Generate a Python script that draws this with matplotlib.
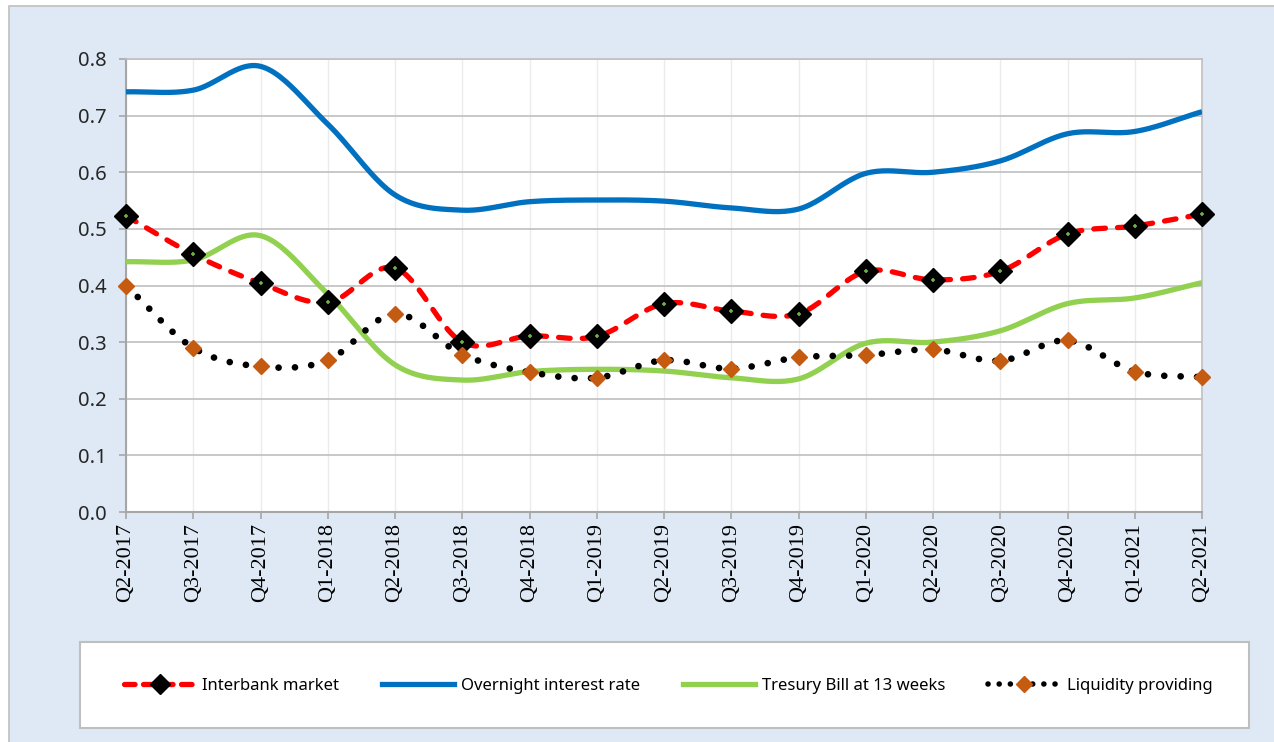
import numpy as np
import matplotlib
matplotlib.use('Agg')
import matplotlib.pyplot as plt
from matplotlib.patches import Rectangle

# data
quarters = ['Q2-2017', 'Q3-2017', 'Q4-2017', 'Q1-2018', 'Q2-2018', 'Q3-2018', 'Q4-2018',
            'Q1-2019', 'Q2-2019', 'Q3-2019', 'Q4-2019', 'Q1-2020', 'Q2-2020', 'Q3-2020',
            'Q4-2020', 'Q1-2021', 'Q2-2021']
interbank = [0.523, 0.455, 0.404, 0.370, 0.431, 0.300, 0.311, 0.310, 0.368,
             0.355, 0.350, 0.425, 0.410, 0.425, 0.491, 0.505, 0.526]
overnight = [0.742, 0.745, 0.787, 0.685, 0.560, 0.533, 0.548, 0.551, 0.549,
             0.537, 0.535, 0.598, 0.600, 0.620, 0.668, 0.672, 0.707]
tbill = [0.442, 0.445, 0.488, 0.385, 0.260, 0.233, 0.248, 0.252, 0.249,
         0.237, 0.235, 0.298, 0.300, 0.320, 0.368, 0.378, 0.405]
liquidity = [0.400, 0.290, 0.257, 0.268, 0.350, 0.278, 0.247, 0.237, 0.268,
             0.253, 0.273, 0.277, 0.287, 0.267, 0.303, 0.248, 0.238]

labels = ['Interbank market', 'Overnight interest rate', 'Tresury Bill at 13 weeks', 'Liquidity providing']

# colours
bg_blue = '#DEE9F5'
red = '#FF0000'
blue = '#0070C0'
green = '#92D050'
orange = '#C55A11'


def smooth(y, n=24):
    # catmull-rom curve through the points, like Excel's "smoothed line"
    y = np.asarray(y, dtype=float)
    x = np.arange(len(y), dtype=float)
    px = np.concatenate([[2 * x[0] - x[1]], x, [2 * x[-1] - x[-2]]])
    py = np.concatenate([[2 * y[0] - y[1]], y, [2 * y[-1] - y[-2]]])
    xs, ys = [], []
    for i in range(1, len(px) - 2):
        t = np.linspace(0, 1, n, endpoint=False)
        for arr, out in ((px, xs), (py, ys)):
            p0, p1, p2, p3 = arr[i - 1], arr[i], arr[i + 1], arr[i + 2]
            out.append(0.5 * ((2 * p1) + (-p0 + p2) * t + (2 * p0 - 5 * p1 + 4 * p2 - p3) * t ** 2
                              + (-p0 + 3 * p1 - 3 * p2 + p3) * t ** 3))
    xs.append([x[-1]])
    ys.append([y[-1]])
    return np.concatenate(xs), np.concatenate(ys)


fig = plt.figure(figsize=(12.74, 7.42), dpi=100)
fig.patch.set_facecolor('white')

# blue panel behind everything
fig.patches.append(Rectangle((9 / 1274, -0.01), 1.0, 1 - 6 / 742 + 0.01, transform=fig.transFigure,
                             facecolor=bg_blue, edgecolor='#BFBFBF', linewidth=1.2, zorder=-10))

ax = fig.add_axes([126 / 1274, 1 - 512 / 742, (1202 - 126) / 1274, (512 - 59) / 742])
ax.set_facecolor('white')

x = np.arange(len(quarters))

# interbank
sx, sy = smooth(interbank)
ax.plot(sx, sy, color=red, lw=3.8, dashes=[2.2, 2.3], dash_capstyle='round', zorder=3)
ax.plot(x, interbank, ls='none', marker='D', ms=12, mfc='black', mec='black', zorder=4, clip_on=False)
ax.plot(x, interbank, ls='none', marker='+', ms=3.5, mec='#70AD47', mew=1.2, zorder=5, clip_on=False)

# overnight
sx, sy = smooth(overnight)
ax.plot(sx, sy, color=blue, lw=3.8, solid_capstyle='butt', zorder=3)

# treasury
sx, sy = smooth(tbill)
ax.plot(sx, sy, color=green, lw=3.8, solid_capstyle='butt', zorder=3)

# liquidity
sx, sy = smooth(liquidity)
ax.plot(sx, sy, color='black', lw=4.8, dashes=[0.01, 2.45], dash_capstyle='round', zorder=6)
ax.plot(x, liquidity, ls='none', marker='D', ms=8.5, mfc=orange, mec=orange, zorder=7, clip_on=False)

ax.set_xlim(0, len(quarters) - 1)
ax.set_ylim(0, 0.8)
ax.set_yticks(np.arange(0, 0.81, 0.1))
ax.set_yticklabels(['%.1f' % v for v in np.arange(0, 0.81, 0.1)], fontsize=14.5, family='Noto Sans',
                   color='#262626')
ax.set_xticks(x)
ax.set_xticklabels(quarters, rotation=90, fontsize=16, family='Liberation Serif')

ax.grid(axis='y', color='#BFBFBF', lw=1.2, zorder=0)
ax.grid(axis='x', color='#EBEBEB', lw=1.0, zorder=0)
ax.set_axisbelow(True)
for side in ['top', 'right']:
    ax.spines[side].set_color('#BFBFBF')
    ax.spines[side].set_linewidth(1.2)
for side in ['left', 'bottom']:
    ax.spines[side].set_color('#A6A6A6')
    ax.spines[side].set_linewidth(1.5)
ax.tick_params(axis='both', direction='out', length=5, width=1.2, color='#A6A6A6')
ax.tick_params(axis='y', pad=9)
ax.tick_params(axis='x', pad=3)

# legend box
fig.patches.append(Rectangle((80 / 1274, 1 - 728 / 742), (1249 - 80) / 1274, (728 - 642) / 742,
                             transform=fig.transFigure, facecolor='white', edgecolor='#BFBFBF',
                             linewidth=1.5, zorder=-5))

h1, = ax.plot([], [], color=red, lw=3.8, dashes=[2.0, 1.6], dash_capstyle='round',
              marker='D', ms=10, mfc='black', mec='black')
h2, = ax.plot([], [], color=blue, lw=3.8)
h3, = ax.plot([], [], color=green, lw=3.8)
h4, = ax.plot([], [], color='black', lw=4, dashes=[0.01, 2.0], dash_capstyle='round',
              marker='D', ms=8, mfc=orange, mec=orange)
fig.legend([h1, h2, h3, h4], labels, loc='center', bbox_to_anchor=(668 / 1274, 1 - 686 / 742),
           ncol=4, frameon=False, prop={'family': 'Noto Sans', 'size': 12}, handlelength=4.3,
           handletextpad=0.4, columnspacing=2.6, numpoints=1)

fig.savefig('out.png', dpi=100, facecolor=fig.get_facecolor())
